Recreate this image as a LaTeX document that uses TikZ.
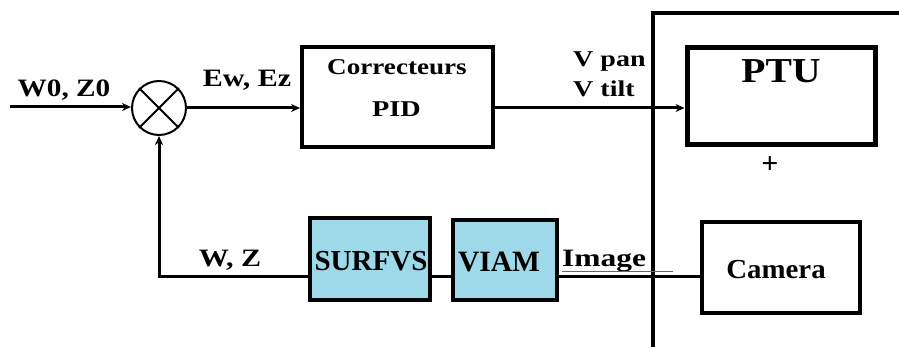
\documentclass[tikz,border=0pt]{standalone}
\usepackage{fontspec}
\setmainfont{Liberation Serif}
\usetikzlibrary{arrows.meta,calc}
\definecolor{blockblue}{RGB}{157,217,233}
% horizontally widened text
\newcommand\widetxt[2]{\scalebox{#1}[1]{#2}}
\tikzset{
  lbl/.style={inner sep=0pt,anchor=base,font=\bfseries\fontsize{#1}{#1}\selectfont},
  blk/.style={draw,line width=4pt,inner sep=0pt},
  sig/.style={line width=3pt},
  arr/.style={sig,-{Stealth[length=9pt,width=8pt]}},
}
\begin{document}
\begin{tikzpicture}[x=1pt,y=-1pt]
\useasboundingbox (0,0) rectangle (899,347);

% summing junction
\node[draw,circle,line width=2pt,minimum size=54pt,inner sep=0pt] (sum) at (159,108) {};
\draw[line width=2pt] (sum.135) -- (sum.-45) (sum.45) -- (sum.-135);

% blocks
\node[blk,minimum width=191pt,minimum height=100pt] (pid) at (397.5,97) {};
\node[blk,line width=5pt,minimum width=188pt,minimum height=97pt] (ptu) at (781,96.5) {};
\node[blk,minimum width=158pt,minimum height=91pt] (cam) at (781,267.5) {};
\node[blk,fill=blockblue,minimum width=120pt,minimum height=82pt] (surf) at (370,259) {};
\node[blk,fill=blockblue,minimum width=104pt,minimum height=80pt] (viam) at (505,260) {};

% block texts
\node[lbl=22.6] (tcorr) at (397,75) {\widetxt{1.2}{Correcteurs}};
\node[lbl=22.6] (tpid) at (396.5,117) {\widetxt{1.25}{PID}};
\node[lbl=35] (tptu) at (781,83) {\widetxt{1.13}{PTU}};
\node[lbl=30,anchor=center] (tplus) at (770,165) {+};
\node[lbl=27.5] (tcam) at (776,278) {\widetxt{1.05}{Camera}};
\node[lbl=29] (tsurf) at (371,270) {SURFVS};
\node[lbl=29.5] (tviam) at (499,272) {VIAM};

% signal labels
\node[lbl=25] (tin) at (64,97) {\widetxt{1.17}{W0, Z0}};
\node[lbl=25] (terr) at (247,87) {\widetxt{1.2}{Ew, Ez}};
\node[lbl=22.6,anchor=base west] (tpan) at (573,67) {\widetxt{1.24}{V pan}};
\node[lbl=22.6,anchor=base west] (ttilt) at (573,97) {\widetxt{1.24}{V tilt}};
\node[lbl=25] (timg) at (604,267) {\widetxt{1.26}{Image}};
\node[lbl=25] (tfb) at (230,267) {\widetxt{1.2}{W, Z}};

% frame around the pan-tilt unit and camera
\coordinate (fbot) at (653,347);
\coordinate (ftop) at (653,13);
\coordinate (fright) at (899,13);
\draw[line width=4pt] (fbot) -- (ftop) -- (fright);

% forward path
\coordinate (in) at (10,107);
\draw[arr] (in) -- (in -| sum.west);
\draw[arr] (sum.east) -- (pid.west |- sum.east);
\draw[arr] (pid.east |- sum.east) -- (ptu.west |- sum.east);

% feedback path
\coordinate (fb) at (0,277);
\coordinate (corner) at (sum.south |- fb);
\draw[sig] (cam.west |- fb) -- (viam.east |- fb);
\draw[sig] (viam.west |- fb) -- (surf.east |- fb);
\draw[arr] (surf.west |- fb) -- (corner) -- (sum.south);

% thin rule under the image label
\coordinate (ul1) at (562,271.5);
\coordinate (ul2) at (673,271.5);
\draw[line width=0.8pt,black!60] (ul1) -- (ul2);
\end{tikzpicture}
\end{document}
